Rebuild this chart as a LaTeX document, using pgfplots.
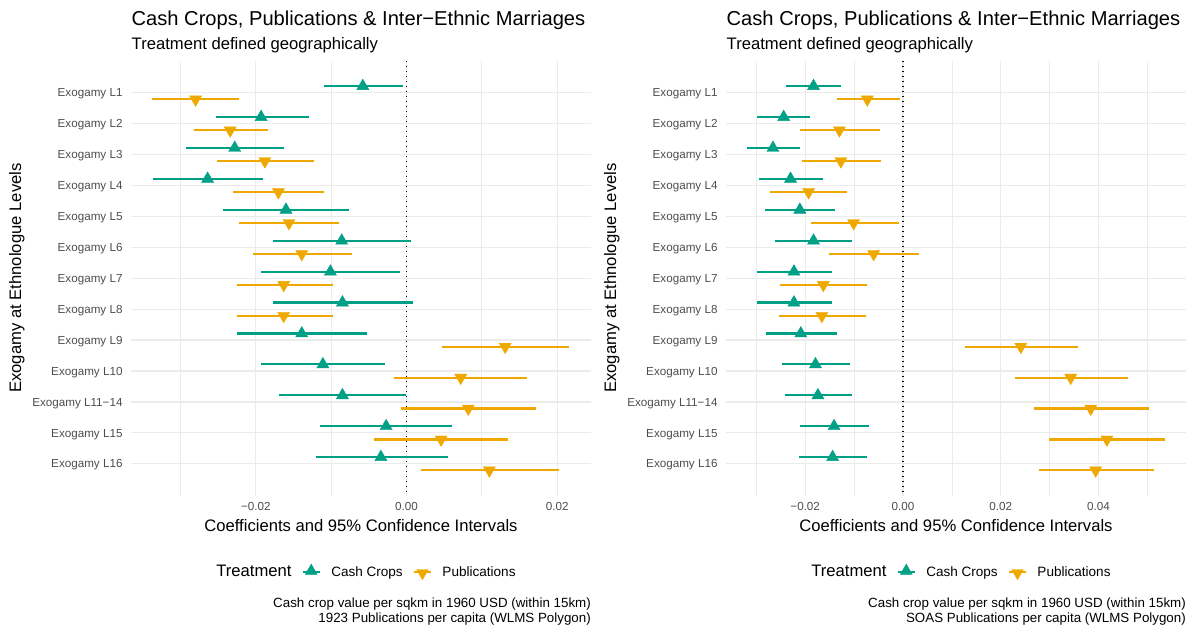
\documentclass[border=0pt]{standalone}
\usepackage{fontspec}
\setmainfont{Liberation Sans}
\usepackage{pgfplots}
\usepackage{pgfplotstable}
\pgfplotsset{compat=1.18}
\definecolor{cashc}{RGB}{0,160,135}
\definecolor{pubc}{RGB}{238,168,0}
\definecolor{gridc}{RGB}{235,235,235}
\definecolor{tickc}{RGB}{77,77,77}

% left panel: Cash crops
\pgfplotstableread{
k c lo hi
1 -0.0058 -0.0109 -0.0004
2 -0.0193 -0.0253 -0.0130
3 -0.0228 -0.0293 -0.0162
4 -0.0264 -0.0336 -0.0190
5 -0.0160 -0.0243 -0.0076
6 -0.0086 -0.0177 0.0006
7 -0.0101 -0.0193 -0.0008
8 -0.0085 -0.0177 0.0008
9 -0.0139 -0.0225 -0.0052
10 -0.0111 -0.0193 -0.0028
11 -0.0085 -0.0169 -0.0001
12 -0.0027 -0.0115 0.0061
13 -0.0034 -0.0120 0.0055
}\cashA
\pgfplotstableread{
k c lo hi
1 -0.0280 -0.0338 -0.0222
2 -0.0234 -0.0282 -0.0184
3 -0.0188 -0.0252 -0.0123
4 -0.0170 -0.0230 -0.0109
5 -0.0156 -0.0222 -0.0089
6 -0.0139 -0.0204 -0.0073
7 -0.0163 -0.0225 -0.0098
8 -0.0163 -0.0225 -0.0098
9 0.0131 0.0047 0.0216
10 0.0072 -0.0016 0.0160
11 0.0082 -0.0007 0.0172
12 0.0046 -0.0043 0.0135
13 0.0110 0.0019 0.0202
}\pubA
% right panel
\pgfplotstableread{
k c lo hi
1 -0.0183 -0.0239 -0.0127
2 -0.0244 -0.0298 -0.0190
3 -0.0266 -0.0319 -0.0211
4 -0.0230 -0.0295 -0.0164
5 -0.0211 -0.0282 -0.0140
6 -0.0183 -0.0261 -0.0104
7 -0.0223 -0.0299 -0.0145
8 -0.0223 -0.0299 -0.0145
9 -0.0209 -0.0280 -0.0136
10 -0.0179 -0.0247 -0.0109
11 -0.0174 -0.0241 -0.0104
12 -0.0141 -0.0210 -0.0070
13 -0.0144 -0.0213 -0.0073
}\cashB
\pgfplotstableread{
k c lo hi
1 -0.0073 -0.0135 -0.0007
2 -0.0130 -0.0210 -0.0047
3 -0.0127 -0.0206 -0.0045
4 -0.0193 -0.0272 -0.0114
5 -0.0101 -0.0189 -0.0009
6 -0.0060 -0.0152 0.0033
7 -0.0163 -0.0251 -0.0073
8 -0.0166 -0.0254 -0.0076
9 0.0241 0.0127 0.0357
10 0.0343 0.0230 0.0460
11 0.0384 0.0267 0.0503
12 0.0417 0.0299 0.0535
13 0.0394 0.0278 0.0514
}\pubB

\pgfplotsset{
  panel/.style={
    width=459.6bp, height=434.7bp, scale only axis,
    scaled x ticks=false,
    y dir=reverse, ymin=-0.03, ymax=14.03,
    ytick={1,2,3,4,5,6,7,8,9,10,11,12,13},
    yticklabels={Exogamy L1,Exogamy L2,Exogamy L3,Exogamy L4,Exogamy L5,Exogamy L6,Exogamy L7,Exogamy L8,Exogamy L9,Exogamy L10,Exogamy L11−14,Exogamy L15,Exogamy L16},
    axis line style={draw=none},
    major tick length=0pt, minor tick length=0pt,
    xmajorgrids, ymajorgrids, xminorgrids,
    major grid style={gridc, line width=1.3bp},
    minor grid style={gridc, line width=0.7bp},
    tick label style={font=\fontsize{11.7}{14}\selectfont, text=tickc},
    yticklabel style={anchor=base east, inner sep=0pt, yshift=-4.2bp},
    xticklabel style={anchor=north, inner sep=0pt},
    xticklabel shift=6.3bp, yticklabel shift=8.3bp,
    legend columns=-1,
    legend style={at={(0.5,-0.1755)}, anchor=center, draw=none, fill=none,
      font=\fontsize{13.6}{16}\selectfont,
      nodes={inner sep=0pt},
      /tikz/every odd column/.append style={column sep=10.3bp},
      /tikz/every even column/.append style={column sep=10bp},
      /tikz/column 1/.style={column sep=0pt}},
  },
  cashp/.style={only marks, color=cashc, mark=triangle*, mark size=7bp,
    mark options={fill=cashc, draw=none, rotate=0},
    legend image code/.code={%
      \draw[cashc, line width=2.4bp] (0bp,0bp) -- (17bp,0bp);
      \draw[cashc] plot[only marks, mark=triangle*, mark size=6.8bp, mark options={fill=cashc, draw=none}] coordinates {(8.5bp,1bp)};},
    error bars/.cd, x dir=both, x explicit, error mark=none,
    error bar style={line width=2.2bp, cashc}},
  pubp/.style={only marks, color=pubc, mark=triangle*, mark size=7bp,
    mark options={fill=pubc, draw=none, rotate=180},
    legend image code/.code={%
      \draw[pubc, line width=2.4bp] (0bp,0bp) -- (17bp,0bp);
      \draw[pubc] plot[only marks, mark=triangle*, mark size=6.8bp, mark options={fill=pubc, draw=none, rotate=180}] coordinates {(8.5bp,-1bp)};},
    error bars/.cd, x dir=both, x explicit, error mark=none,
    error bar style={line width=2.2bp, pubc}},
}

\begin{document}
\begin{tikzpicture}
\useasboundingbox (0,0) rectangle (1192bp,-628bp);

% ---------------- left panel ----------------
\begin{axis}[panel, at={(131bp,-60.9bp)}, anchor=north west,
  xmin=-0.03657, xmax=0.02444,
  xtick={-0.02,0,0.02}, xticklabels={−0.02,0.00,0.02},
  minor xtick={-0.03,-0.01,0.01}]
  \addlegendimage{empty legend}
  \addlegendentry{\fontsize{16.7}{20}\selectfont Treatment}
  \addplot[black, line width=1.6bp, dash pattern=on 1.4bp off 3.6bp, forget plot] coordinates {(0,-0.03) (0,14.03)};
  \addplot[cashp] table[x=c, y expr=\thisrow{k}-0.214,
     x error minus expr=\thisrow{c}-\thisrow{lo},
     x error plus expr=\thisrow{hi}-\thisrow{c}] {\cashA};
  \addlegendentry{Cash Crops}
  \addplot[pubp] table[x=c, y expr=\thisrow{k}+0.214,
     x error minus expr=\thisrow{c}-\thisrow{lo},
     x error plus expr=\thisrow{hi}-\thisrow{c}] {\pubA};
  \addlegendentry{Publications}
\end{axis}

% ---------------- right panel ----------------
\begin{axis}[panel, at={(726bp,-60.9bp)}, anchor=north west,
  xmin=-0.0362, xmax=0.0578,
  xtick={-0.02,0,0.02,0.04}, xticklabels={−0.02,0.00,0.02,0.04},
  minor xtick={-0.03,-0.01,0.01,0.03,0.05}]
  \addlegendimage{empty legend}
  \addlegendentry{\fontsize{16.7}{20}\selectfont Treatment}
  \addplot[black, line width=1.6bp, dash pattern=on 1.4bp off 3.6bp, forget plot] coordinates {(0,-0.03) (0,14.03)};
  \addplot[cashp] table[x=c, y expr=\thisrow{k}-0.214,
     x error minus expr=\thisrow{c}-\thisrow{lo},
     x error plus expr=\thisrow{hi}-\thisrow{c}] {\cashB};
  \addlegendentry{Cash Crops}
  \addplot[pubp] table[x=c, y expr=\thisrow{k}+0.214,
     x error minus expr=\thisrow{c}-\thisrow{lo},
     x error plus expr=\thisrow{hi}-\thisrow{c}] {\pubB};
  \addlegendentry{Publications}
\end{axis}

% ---------------- titles and labels ----------------
\foreach \dx/\capB in {0/1923 Publications per capita (WLMS Polygon), 595/SOAS Publications per capita (WLMS Polygon)} {
  \node[anchor=base west, inner sep=0pt, font=\fontsize{20.2}{24}\selectfont] at ({131.5bp+\dx bp},-25bp) {Cash Crops, Publications \& Inter−Ethnic Marriages};
  \node[anchor=base west, inner sep=0pt, font=\fontsize{16.7}{20}\selectfont] at ({131.5bp+\dx bp},-49.5bp) {Treatment defined geographically};
  \node[anchor=base, inner sep=0pt, rotate=90, font=\fontsize{16.7}{20}\selectfont] at ({21bp+\dx bp},-278bp) {Exogamy at Ethnologue Levels};
  \node[anchor=base, inner sep=0pt, font=\fontsize{16.7}{20}\selectfont] at ({361bp+\dx bp},-531.5bp) {Coefficients and 95\% Confidence Intervals};
  \node[anchor=base east, inner sep=0pt, font=\fontsize{13.4}{16}\selectfont] at ({591bp+\dx bp},-607.8bp) {Cash crop value per sqkm in 1960 USD (within 15km)};
  \node[anchor=base east, inner sep=0pt, font=\fontsize{13.4}{16}\selectfont] at ({591bp+\dx bp},-622.8bp) {\capB};
}
\end{tikzpicture}
\end{document}
